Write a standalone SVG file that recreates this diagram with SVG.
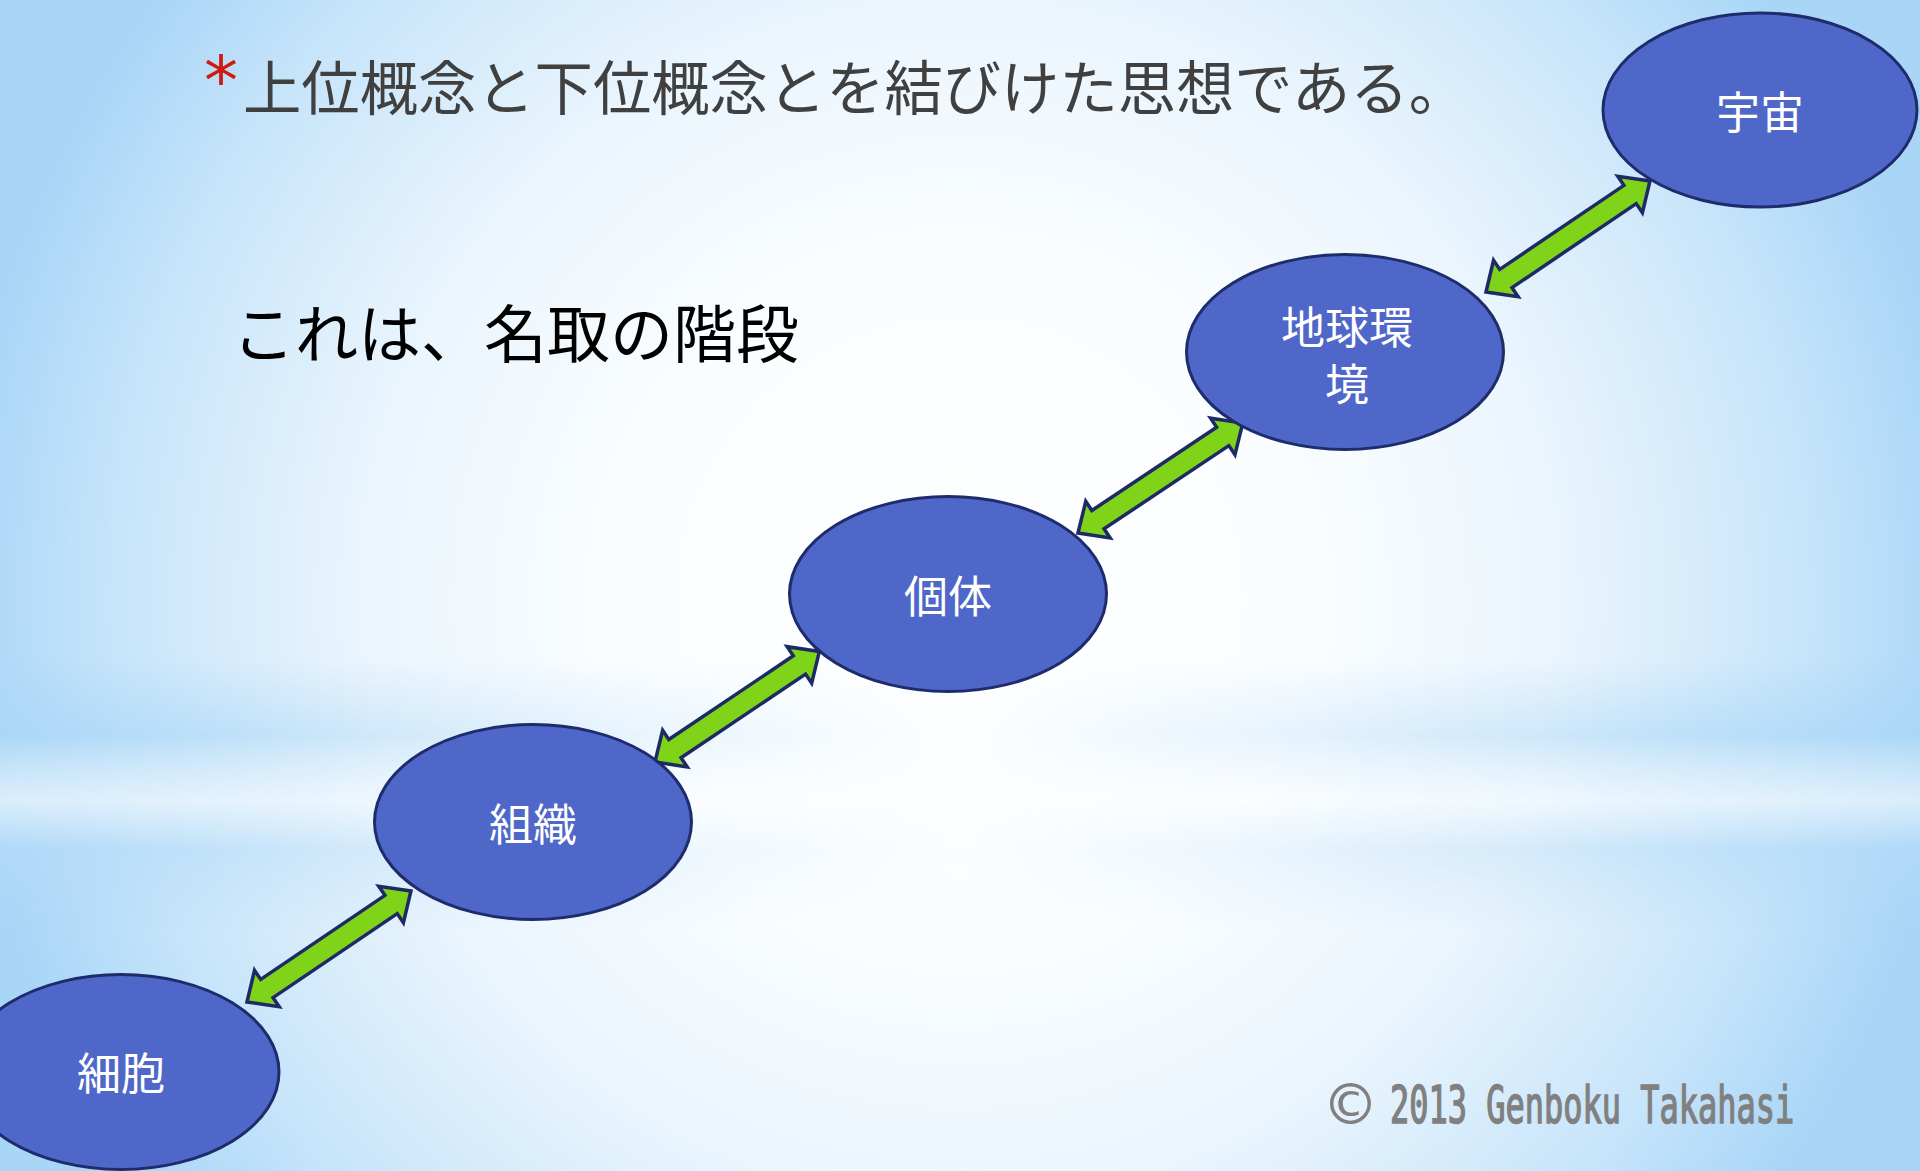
<svg xmlns="http://www.w3.org/2000/svg" xmlns:xlink="http://www.w3.org/1999/xlink" width="1920" height="1171" viewBox="0 0 1920 1171">
<defs>
<style>
.node ellipse{fill:#4F67C8;stroke:#1E2C6C;stroke-width:3}
.node text{fill:#FFFFFF;font-family:"Noto Sans CJK JP","Noto Sans",sans-serif;font-size:44px;text-anchor:middle}
.arrow{fill:#7FD318;stroke:#1E2A66;stroke-width:3.5;stroke-linejoin:miter}
.title{fill:#404040;font-family:"Noto Sans CJK JP",sans-serif;font-size:59px}
.sub{fill:#000000;font-family:"Noto Sans CJK JP",sans-serif;font-size:63px}
.copy{fill:#808080;font-family:"DejaVu Sans Mono",monospace}
</style>
<radialGradient id="bg" gradientUnits="userSpaceOnUse" cx="960" cy="600" r="1000">
<stop offset="0" stop-color="#FFFFFF"/>
<stop offset="0.35" stop-color="#FAFDFF"/>
<stop offset="0.6" stop-color="#EAF5FD"/>
<stop offset="0.85" stop-color="#C6E4FA"/>
<stop offset="1" stop-color="#A9D6F7"/>
</radialGradient>
<linearGradient id="band" x1="0" y1="660" x2="0" y2="930" gradientUnits="userSpaceOnUse">
<stop offset="0" stop-color="#A9D6F7" stop-opacity="0"/>
<stop offset="0.28" stop-color="#A9D6F7" stop-opacity="0.7"/>
<stop offset="0.52" stop-color="#FFFFFF" stop-opacity="0.55"/>
<stop offset="0.7" stop-color="#B3DAF8" stop-opacity="0.6"/>
<stop offset="1" stop-color="#B3DAF8" stop-opacity="0"/>
</linearGradient>
<linearGradient id="hm" x1="0" y1="0" x2="1920" y2="0" gradientUnits="userSpaceOnUse">
<stop offset="0" stop-color="#FFFFFF"/>
<stop offset="0.25" stop-color="#777777"/>
<stop offset="0.5" stop-color="#000000"/>
<stop offset="0.72" stop-color="#777777"/>
<stop offset="1" stop-color="#FFFFFF"/>
</linearGradient>
<mask id="bandMask" maskUnits="userSpaceOnUse" x="0" y="0" width="1920" height="1171">
<rect x="0" y="0" width="1920" height="1171" fill="url(#hm)"/>
</mask>
<path id="dbl" d="M0,0 L24,-22 L24,-11 L174,-11 L174,-22 L198,0 L174,22 L174,11 L24,11 L24,22 Z"/>
</defs>
<rect x="0" y="0" width="1920" height="1171" fill="url(#bg)"/>
<rect x="0" y="660" width="1920" height="270" fill="url(#band)" mask="url(#bandMask)"/>

<g id="texts">
<text x="204" y="104" fill="#D01A10" font-family="DejaVu Sans,sans-serif" font-size="68">*</text>
<text class="title" x="243" y="110" textLength="1224" lengthAdjust="spacingAndGlyphs">上位概念と下位概念とを結びけた思想である。</text>
<text class="sub" x="232" y="357">これは、名取の階段</text>
<text class="copy" x="1330" y="1128" font-size="68" font-family="DejaVu Sans,sans-serif">©</text>
<text class="copy" transform="translate(1390,1123) scale(0.615,1)" x="0" y="0" font-size="52" stroke="#808080" stroke-width="1.6">2013 Genboku Takahasi</text>
</g>

<g id="connectors">
<use xlink:href="#dbl" class="arrow" transform="translate(247,1002) rotate(-34.1)"/>
<use xlink:href="#dbl" class="arrow" transform="translate(655,762) rotate(-33.9)"/>
<use xlink:href="#dbl" class="arrow" transform="translate(1078,533) rotate(-33.7)"/>
<use xlink:href="#dbl" class="arrow" transform="translate(1486,292) rotate(-34.1)"/>
</g>

<g id="node-saibou" class="node">
<ellipse cx="121" cy="1072" rx="158" ry="97.5"/>
<text x="121" y="1090">細胞</text>
</g>
<g id="node-soshiki" class="node">
<ellipse cx="533" cy="822" rx="158.5" ry="97.5"/>
<text x="533" y="841">組織</text>
</g>
<g id="node-kotai" class="node">
<ellipse cx="948" cy="594" rx="158.5" ry="97.5"/>
<text x="948" y="613">個体</text>
</g>
<g id="node-chikyu" class="node">
<ellipse cx="1345" cy="352" rx="158.5" ry="97.5"/>
<text><tspan x="1347" y="344">地球環</tspan><tspan x="1347" y="401">境</tspan></text>
</g>
<g id="node-uchu" class="node">
<ellipse cx="1760" cy="110" rx="157" ry="97"/>
<text x="1760" y="129">宇宙</text>
</g>
</svg>
